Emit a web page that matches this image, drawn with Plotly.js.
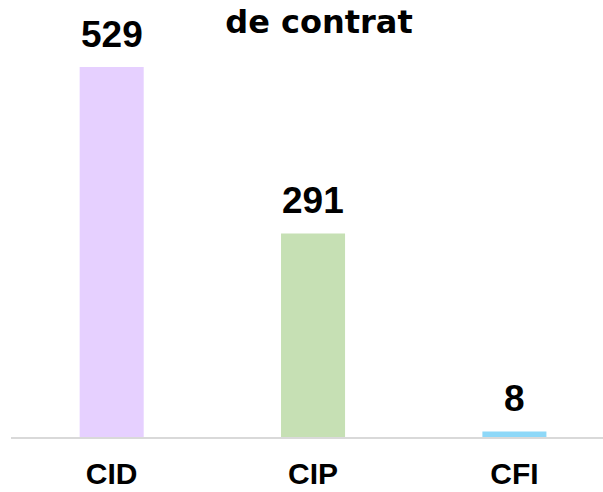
<!DOCTYPE html>
<html>
<head>
<meta charset="utf-8">
<script src="https://cdn.plot.ly/plotly-3.0.1.min.js"></script>
<style>html,body{margin:0;padding:0;background:#fff;overflow:hidden}#chart{width:603px;height:492px}</style>
</head>
<body>
<div id="chart"></div>
<script>
const categories = ['CID', 'CIP', 'CFI'];
const values = [529, 291, 8];
const barColors = ['#E6D0FF', '#C6E0B4', '#8ED8F8'];
const titleText = 'de contrat';

const trace = {
  type: 'bar',
  x: categories,
  y: values,
  marker: {color: barColors, line: {width: 0}},
  hoverinfo: 'none'
};

const annotations = categories.map((c, i) => ({
  x: c, y: values[i], xref: 'x', yref: 'y',
  text: '<b>' + String(values[i]) + '</b>', showarrow: false,
  yanchor: 'bottom', yshift: 10,
  font: {family: 'Liberation Sans, Arial, sans-serif', size: 37, color: '#000'}
}));

const layout = {
  width: 603, height: 492,
  margin: {l: 11, r: 0, t: 17, b: 55},
  paper_bgcolor: '#fff', plot_bgcolor: '#fff',
  showlegend: false,
  bargap: 0.682,
  title: {
    text: '<b>' + titleText + '</b>',
    xref: 'container', yref: 'container',
    x: 0.529, y: 0.955, xanchor: 'center', yanchor: 'middle',
    font: {family: 'DejaVu Sans, sans-serif', size: 32, color: '#000'}
  },
  xaxis: {
    type: 'category',
    range: [-0.5, 2.44],
    showgrid: false, zeroline: false,
    showline: true, linecolor: '#D9D9D9', linewidth: 2,
    ticks: '', ticklabelstandoff: 9,
    tickfont: {family: 'Liberation Sans, Arial, sans-serif', size: 30, color: '#000', weight: 'bold'},
    fixedrange: true
  },
  yaxis: {
    range: [0, 600.5],
    visible: false, showgrid: false, zeroline: false,
    fixedrange: true
  },
  annotations: annotations
};

Plotly.newPlot('chart', [trace], layout, {displayModeBar: false, staticPlot: true});
</script>
</body>
</html>
